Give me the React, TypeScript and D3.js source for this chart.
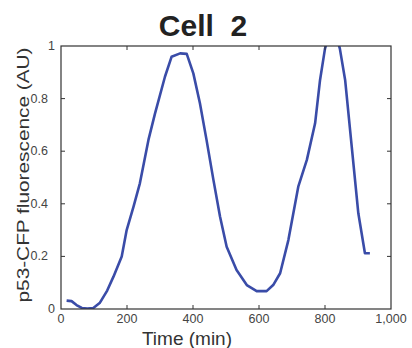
import React from "react";
import * as d3 from "d3";

const times = [17, 32, 47, 63, 80, 98, 118, 140, 159, 184, 199, 220, 239, 265, 285, 315, 335, 361, 381, 401, 421, 441, 462, 482, 502, 532, 563, 593, 623, 643, 664, 689, 719, 745, 770, 785, 800, 815, 832, 845, 861, 881, 901, 921, 936];
const values = [0.032, 0.03, 0.015, 0.004, 0.002, 0.004, 0.024, 0.07, 0.123, 0.2, 0.3, 0.39, 0.478, 0.643, 0.744, 0.883, 0.959, 0.972, 0.97, 0.896, 0.782, 0.643, 0.49, 0.351, 0.237, 0.148, 0.091, 0.068, 0.068, 0.091, 0.136, 0.262, 0.465, 0.567, 0.706, 0.871, 0.99, 1.05, 1.05, 0.99, 0.871, 0.617, 0.364, 0.212, 0.212];
const xTicks = [0, 200, 400, 600, 800, 1000];
const yTicks = [0, 0.2, 0.4, 0.6, 0.8, 1];
const title = "Cell  2";
const xLabel = "Time (min)";
const yLabel = "p53-CFP fluorescence (AU)";

export default function App() {
  const W = 412, H = 348;
  const L = 61, R = 391, T = 46, B = 309;
  const x = d3.scaleLinear().domain([0, 1000]).range([L, R]);
  const y = d3.scaleLinear().domain([0, 1]).range([B, T]);
  const line = d3.line<number>().x((_, i) => x(times[i])).y((d) => y(d)).curve(d3.curveLinear);
  const fmt = d3.format(",");
  const font = "Liberation Sans, Arial, sans-serif";
  const tk = 4;
  return (
    <svg width={W} height={H} style={{ position: "absolute", left: 0, top: 0, background: "#fff" }}>
      <defs>
        <clipPath id="plot">
          <rect x={L} y={T} width={R - L} height={B - T} />
        </clipPath>
      </defs>
      <text x={203} y={36} textAnchor="middle" fontFamily={font} fontWeight="bold" fontSize={30} fill="#222" style={{ whiteSpace: "pre" }}>
        {title}
      </text>
      <path d={line(values) || ""} fill="none" stroke="#3a4ca8" strokeWidth={2.6} strokeLinejoin="round" clipPath="url(#plot)" />
      <rect x={L} y={T} width={R - L} height={B - T} fill="none" stroke="#333" strokeWidth={1.2} />
      {xTicks.slice(1, -1).map((t) => (
        <g key={"xt" + t}>
          <line x1={x(t)} x2={x(t)} y1={B} y2={B - tk} stroke="#333" />
          <line x1={x(t)} x2={x(t)} y1={T} y2={T + tk} stroke="#333" />
        </g>
      ))}
      {yTicks.slice(1, -1).map((t) => (
        <g key={"yt" + t}>
          <line x1={L} x2={L + tk} y1={y(t)} y2={y(t)} stroke="#333" />
          <line x1={R} x2={R - tk} y1={y(t)} y2={y(t)} stroke="#333" />
        </g>
      ))}
      {xTicks.map((t) => (
        <text key={"xl" + t} x={x(t)} y={323} textAnchor="middle" fontFamily={font} fontSize={12.5} fill="#444">
          {fmt(t)}
        </text>
      ))}
      {yTicks.map((t) => (
        <text key={"yl" + t} x={Number.isInteger(t) ? 55 : 48} y={y(t) + 4} textAnchor="end" fontFamily={font} fontSize={12.5} fill="#444">
          {String(t)}
        </text>
      ))}
      <text x={187} y={345} textAnchor="middle" fontFamily={font} fontSize={19} fill="#333">
        {xLabel}
      </text>
      <text transform={`translate(29,175) rotate(-90)`} textAnchor="middle" fontFamily={font} fontSize={16} fill="#333" textLength={255} lengthAdjust="spacingAndGlyphs">
        {yLabel}
      </text>
    </svg>
  );
}
